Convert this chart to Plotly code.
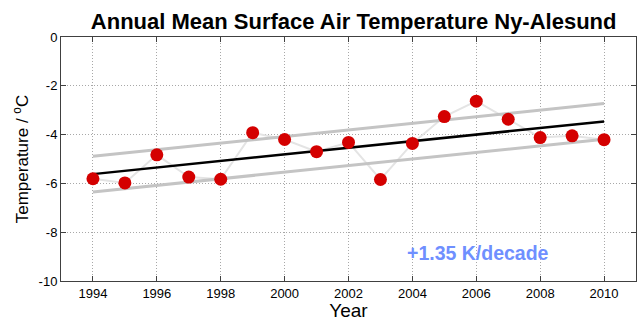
import plotly.graph_objects as go

years = [1994, 1995, 1996, 1997, 1998, 1999, 2000, 2001, 2002, 2003, 2004, 2005, 2006, 2007, 2008, 2009, 2010]
temps = [-5.81, -5.98, -4.83, -5.74, -5.83, -3.92, -4.20, -4.70, -4.32, -5.84, -4.36, -3.26, -2.63, -3.37, -4.12, -4.05, -4.21]

trend_years = [1994, 2010]
trend_mid = [-5.62, -3.46]
trend_upper = [-4.89, -2.73]
trend_lower = [-6.35, -4.19]

ytick_vals = [0, -2, -4, -6, -8, -10]
ytick_text = ["0", "-2", "-4", "-6", "-8", "-10"]
xtick_vals = [1994, 1996, 1998, 2000, 2002, 2004, 2006, 2008, 2010]

FONT = "Liberation Sans, Arial, sans-serif"

fig = go.Figure()
fig.add_trace(go.Scatter(x=years, y=temps, mode="lines",
                         line=dict(color="#e4e4e4", width=2), hoverinfo="skip"))
fig.add_trace(go.Scatter(x=trend_years, y=trend_upper, mode="lines",
                         line=dict(color="#c4c4c4", width=3)))
fig.add_trace(go.Scatter(x=trend_years, y=trend_lower, mode="lines",
                         line=dict(color="#c4c4c4", width=3)))
fig.add_trace(go.Scatter(x=trend_years, y=trend_mid, mode="lines",
                         line=dict(color="#000000", width=2.5)))
fig.add_trace(go.Scatter(x=years, y=temps, mode="markers",
                         marker=dict(color="#d40000", size=13, line=dict(width=0))))

fig.add_annotation(x=2006.05, y=-8.86, text="<b>+1.35 K/decade</b>", showarrow=False,
                   font=dict(family=FONT, size=19.5, color="#6f8fff"))

axis_common = dict(showline=True, linecolor="#404040", linewidth=1, mirror="ticks",
                   ticks="inside", ticklen=5, tickcolor="#404040",
                   showgrid=True, gridcolor="#a8a8a8", griddash="1px,2px", gridwidth=1,
                   zeroline=False, tickfont=dict(family=FONT, size=13, color="#000000"))

fig.update_layout(
    width=643, height=321,
    margin=dict(l=61, r=6, t=37, b=38),
    paper_bgcolor="white", plot_bgcolor="white",
    showlegend=False,
    title=dict(text="<b>Annual Mean Surface Air Temperature Ny-Alesund</b>",
               font=dict(family=FONT, size=22, color="#000000"),
               x=0.55, xanchor="center", y=0.935, yanchor="middle"),
    xaxis=dict(range=[1993, 2011], tickvals=xtick_vals,
               title=dict(text="Year", font=dict(family=FONT, size=19, color="#000000"), standoff=1),
               **axis_common),
    yaxis=dict(range=[-10, 0], tickvals=ytick_vals, ticktext=ytick_text,
               title=dict(text="Temperature / <sup>o</sup>C", font=dict(family=FONT, size=17, color="#000000"), standoff=5),
               **axis_common),
)

fig.write_html("out.html")
